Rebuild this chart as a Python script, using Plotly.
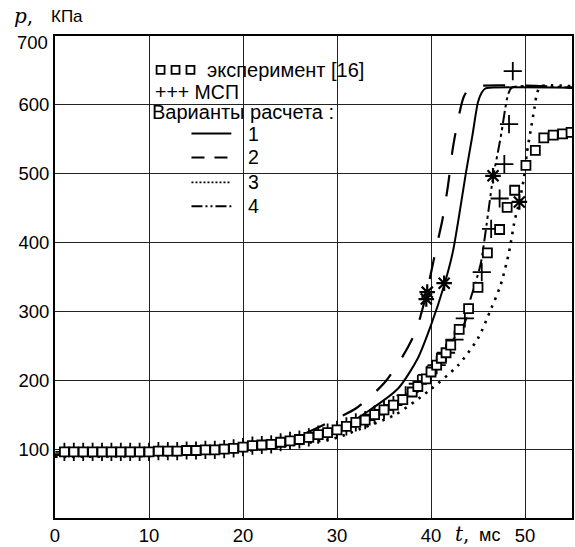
import plotly.graph_objects as go

# ---------------- data ----------------
exp_t = [1, 2, 3, 4, 5, 6, 7, 8, 9, 10, 11, 12, 13, 14, 15, 16, 17, 18, 19, 20,
         21, 22, 23, 24, 25, 26, 27, 28, 29, 30, 31, 32, 33, 34, 35, 36, 37, 38,
         38.6, 39.5, 40.0, 40.6, 41.1, 41.6, 42.1, 43.0, 44.0, 45.0, 46.0, 47.3,
         48.1, 48.9, 50.1, 51.1, 52.0, 53.0, 54.0, 54.9]
exp_p = [96, 96, 96, 96, 96, 96, 96, 96, 96, 96, 97, 97, 97, 98, 98, 99, 99, 100, 101, 103,
         105, 106, 107, 110, 112, 114, 117, 121, 124, 128, 133, 139, 142, 150, 157, 164, 172, 183,
         191, 202, 212, 222, 232, 240, 251, 274, 304, 335, 385, 419,
         451, 476, 512, 534, 552, 556, 558, 560]

msp_t = [1, 2, 3, 4, 5, 6, 7, 8, 9, 10, 11, 12, 13, 14, 15, 16, 17, 18, 19, 20,
         21, 22, 23, 24, 25, 26, 27, 28, 29, 30, 31, 32, 33, 34, 35, 36,
         37.3, 38.6, 39.6, 40.6, 41.6, 42.5, 43.6, 45.4, 46.4, 47.3, 47.8, 48.3, 48.7]
msp_p = [96, 96, 96, 96, 96, 96, 96, 96, 96, 96, 97, 97, 97, 98, 98, 99, 99, 100, 101, 103,
         105, 106, 107, 110, 112, 114, 117, 121, 124, 128, 133, 139, 142, 150, 157, 164,
         178, 195, 208, 222, 240, 259, 290, 357, 420, 464, 514, 572, 649]

v1_t = [0, 10, 20, 25, 30.2, 33.3, 36.5, 38.6, 40.0, 41.4, 42.3, 43.0, 43.7, 44.4, 45.0, 45.4, 45.8, 46.3, 55]
v1_p = [92, 94, 102, 112, 130, 155, 188, 232, 280, 338, 385, 440, 500, 555, 604, 618, 624, 625, 625]

v2_t = [0, 10, 20, 25, 30.5, 32.0, 33.7, 35.2, 37.0, 38.4, 39.5, 40.6, 41.2, 41.8, 42.3, 42.9, 43.5, 44.2, 55]
v2_p = [92, 94, 103, 114, 148, 159, 178, 199, 235, 272, 325, 395, 432, 482, 535, 580, 612, 625, 625]

v3_t = [0, 10, 20, 29.8, 32.6, 36.2, 39.7, 42.9, 45.0, 46.4, 47.4, 48.3, 48.9, 49.4, 49.9, 50.2, 50.6, 51.0, 51.3, 51.7, 55]
v3_p = [89, 90, 97, 116, 130, 150, 184, 222, 261, 304, 338, 386, 432, 459, 495, 530, 563, 595, 618, 627, 627]

v4_t = [0, 10, 20, 30, 35, 38.6, 39.7, 41.3, 42.3, 43.4, 43.9, 44.2, 44.7, 45.3, 45.8, 46.2, 46.6, 47.1, 47.5, 47.9, 48.2, 48.6, 55]
v4_p = [92, 94, 102, 125, 157, 192, 207, 232, 258, 278, 296, 318, 340, 370, 415, 455, 495, 530, 560, 595, 615, 625, 625]

ast_t = [39.5, 39.6, 41.4, 46.6, 49.4]
ast_p = [318, 328, 341, 497, 459]

x_ticks = [0, 10, 20, 30, 40, 50]
y_ticks = [100, 200, 300, 400, 500, 600]
y_top_label = "700"

legend_series = ["1", "2", "3", "4"]

# ---------------- styles ----------------
FONT = "Liberation Sans, Arial, sans-serif"
FS = 18.5
LFS = 19.5
W, H = 575, 547
ML, MR, MT, MB = 55, 1, 36, 27
PW, PH = W - ML - MR, H - MT - MB

def px(x):
    return (x - ML) / PW

def py(y):
    return (H - MB - y) / PH

line_styles = [
    dict(color="black", width=2, dash="solid"),
    dict(color="black", width=2.2, dash="22px,20px"),
    dict(color="black", width=2.6, dash="2.5px,6px"),
    dict(color="black", width=2, dash="12px,4px,3px,4px,3px,4px"),
]

fig = go.Figure()

for t, p, st in zip([v1_t, v2_t, v3_t, v4_t], [v1_p, v2_p, v3_p, v4_p], line_styles):
    fig.add_trace(go.Scatter(x=t, y=p, mode="lines", line=dict(shape="spline", smoothing=0.7, **st),
                             showlegend=False, hoverinfo="skip"))

fig.add_trace(go.Scatter(x=msp_t, y=msp_p, mode="markers",
                         marker=dict(symbol="cross-thin", size=13, line=dict(color="black", width=1.8)),
                         showlegend=False))
fig.add_trace(go.Scatter(x=exp_t, y=exp_p, mode="markers",
                         marker=dict(symbol="square", size=9, color="white",
                                     line=dict(color="black", width=1.8)),
                         showlegend=False))
fig.add_trace(go.Scatter(x=ast_t, y=ast_p, mode="markers",
                         marker=dict(symbol="asterisk", size=13, line=dict(color="black", width=2.2)),
                         showlegend=False))

shapes = []
annotations = []

# legend box (white background hiding grid)
shapes.append(dict(type="rect", xref="paper", yref="paper", x0=px(150), x1=px(337), y0=py(220), y1=py(55),
                   fillcolor="white", line=dict(width=0), layer="between"))
# squares sample
for cx in [161, 176, 191]:
    shapes.append(dict(type="rect", xref="paper", yref="paper", x0=px(cx - 4), x1=px(cx + 4),
                       y0=py(74), y1=py(66), line=dict(color="black", width=1.8), fillcolor="white"))
annotations.append(dict(x=px(207), y=py(70), xref="paper", yref="paper", text="эксперимент [16]",
                        showarrow=False, xanchor="left", yanchor="middle", font=dict(size=20), borderpad=0))
annotations.append(dict(x=px(154), y=py(92), xref="paper", yref="paper", text="+++ МСП",
                        showarrow=False, xanchor="left", yanchor="middle", font=dict(size=LFS), borderpad=0))
annotations.append(dict(x=px(151), y=py(112), xref="paper", yref="paper", text="Варианты расчета :",
                        showarrow=False, xanchor="left", yanchor="middle", font=dict(size=20), borderpad=0))
rows_y = [134, 158, 183, 207]
sample_dash = ["solid", "13px,10px", "2px,2px", "11px,3px,2px,3px,2px,3px"]
sample_w = [2, 2.2, 1.6, 2]
for lab, yy, d, w in zip(legend_series, rows_y, sample_dash, sample_w):
    shapes.append(dict(type="line", xref="paper", yref="paper", x0=px(192), x1=px(232), y0=py(yy), y1=py(yy),
                       line=dict(color="black", width=w, dash=d)))
    annotations.append(dict(x=px(254), y=py(yy), xref="paper", yref="paper", text=lab,
                            showarrow=False, xanchor="center", yanchor="middle", font=dict(size=LFS),
                            height=18, borderpad=0))

# top y label (sits just below the frame top)
annotations.append(dict(x=px(50), y=py(43), xref="paper", yref="paper", text=y_top_label,
                        showarrow=False, xanchor="right", yanchor="middle", font=dict(size=FS)))

# axis titles
annotations.append(dict(x=px(12), y=py(16), xref="paper", yref="paper",
                        text="<i>p</i>,", showarrow=False, xanchor="left", yanchor="middle",
                        font=dict(size=20, family="DejaVu Serif, Liberation Serif, serif")))
annotations.append(dict(x=px(49), y=py(16), xref="paper", yref="paper",
                        text="КПа", showarrow=False, xanchor="left", yanchor="middle",
                        font=dict(size=17)))
annotations.append(dict(x=px(455), y=py(536), xref="paper", yref="paper",
                        text="<i>t</i>,", showarrow=False, xanchor="left", yanchor="middle",
                        font=dict(size=20, family="DejaVu Serif, Liberation Serif, serif")))
annotations.append(dict(x=px(479), y=py(537), xref="paper", yref="paper",
                        text="мс", showarrow=False, xanchor="left", yanchor="middle",
                        font=dict(size=18)))

fig.update_layout(
    width=W, height=H,
    margin=dict(l=ML, r=MR, t=MT, b=MB, pad=0),
    paper_bgcolor="white", plot_bgcolor="white",
    font=dict(family=FONT, size=FS, color="black"),
    shapes=shapes, annotations=annotations,
    showlegend=False,
)
fig.update_xaxes(range=[0, 55], tickvals=x_ticks, ticktext=[str(v) for v in x_ticks],
                 showgrid=True, gridcolor="#222", gridwidth=1,
                 showline=True, linecolor="black", linewidth=2, mirror=True,
                 ticks="", zeroline=False, tickfont=dict(size=FS))
fig.update_yaxes(range=[0, 700], tickvals=y_ticks, ticktext=[str(v) for v in y_ticks],
                 showgrid=True, gridcolor="#222", gridwidth=1,
                 showline=True, linecolor="black", linewidth=2, mirror=True,
                 ticks="", zeroline=False, tickfont=dict(size=FS))

fig.write_html("out.html")
